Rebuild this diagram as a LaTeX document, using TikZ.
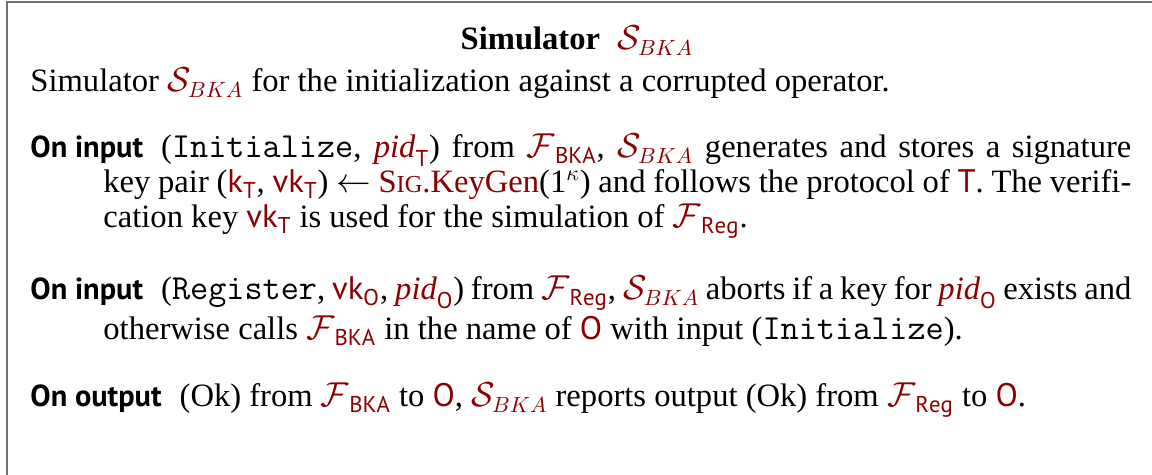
\documentclass[tikz,border=0pt]{standalone}
\usepackage{fontspec}
\setmainfont{Liberation Serif}
\setsansfont{PT Sans}
\usepackage{xcolor}
\definecolor{dr}{RGB}{139,0,0}
\definecolor{framegray}{RGB}{112,112,112}
\newcommand{\hd}[1]{\mbox{\fontsize{15.2}{17}\sffamily\bfseries #1}\hspace{9pt}}
\newcommand{\rd}[1]{\textcolor{dr}{#1}}
\newcommand{\tw}[1]{{\fontsize{17.6}{19}\ttfamily #1}}
\newcommand{\Sbka}{\rd{$\mathcal{S}_{BKA}$}}
\newcommand{\Fu}[1]{\rd{$\mathcal{F}_{\,\mathsf{#1}}$}}
\newcommand{\Pid}[1]{\rd{$\mathit{pid}_{\mathsf{#1}}$}}
\newcommand{\Pty}[1]{\rd{\textsf{#1}}}
\newcommand{\Kv}[2]{\rd{$\mathsf{#1}_{\mathsf{#2}}$}}
\newcommand{\SigKG}{\rd{S{\fontsize{12.2}{12}\selectfont IG}.KeyGen}}
\begin{document}
\begin{tikzpicture}[x=0.5pt,y=-0.5pt,
  txt/.style={inner sep=0pt, anchor=base west, font=\fontsize{16.3}{19}\selectfont}]
\useasboundingbox (0,0) rectangle (1152,475);
\coordinate (fb) at (6.5,477);
\coordinate (ftl) at (6.5,2.5);
\coordinate (ftr) at (1154,2.5);
\draw[framegray, line width=1pt] (fb) -- (ftl) -- (ftr);
\node[txt, anchor=base] (title) at (577,50) {\textbf{Simulator}\hspace{8.5pt}\Sbka};
\node[txt] (intro) at (30,92) {Simulator \Sbka{} for the initialization against a corrupted operator.};
\node[txt] (p1a) at (30,158) {\makebox[550.5pt][s]{\hd{On input}(\tw{Initialize}, \Pid{T}) from \Fu{BKA}, \Sbka{} generates and stores a signature}};
\node[txt] (p1b) at (103,193) {\makebox[514pt][s]{key pair (\Kv{k}{T}, \Kv{vk}{T}) $\leftarrow$ \SigKG(1$^{\kappa}$) and follows the protocol of \Pty{T}. The verifi-}};
\node[txt] (p1c) at (103,228) {cation key \Kv{vk}{T} is used for the simulation of \Fu{Reg}.};
\node[txt] (p2a) at (30,300) {\makebox[550.5pt][s]{\hd{On input}(\tw{Register}, \Kv{vk}{O}, \Pid{O}) from \Fu{Reg}, \Sbka{} aborts if a key for \Pid{O} exists and}};
\node[txt] (p2b) at (103,340) {otherwise calls \Fu{BKA} in the name of \Pty{O} with input (\tw{Initialize}).};
\node[txt] (p3) at (30,407) {\hd{On output}(Ok) from \Fu{BKA} to \Pty{O}, \Sbka{} reports output (Ok) from \Fu{Reg} to \Pty{O}.};
\end{tikzpicture}
\end{document}
